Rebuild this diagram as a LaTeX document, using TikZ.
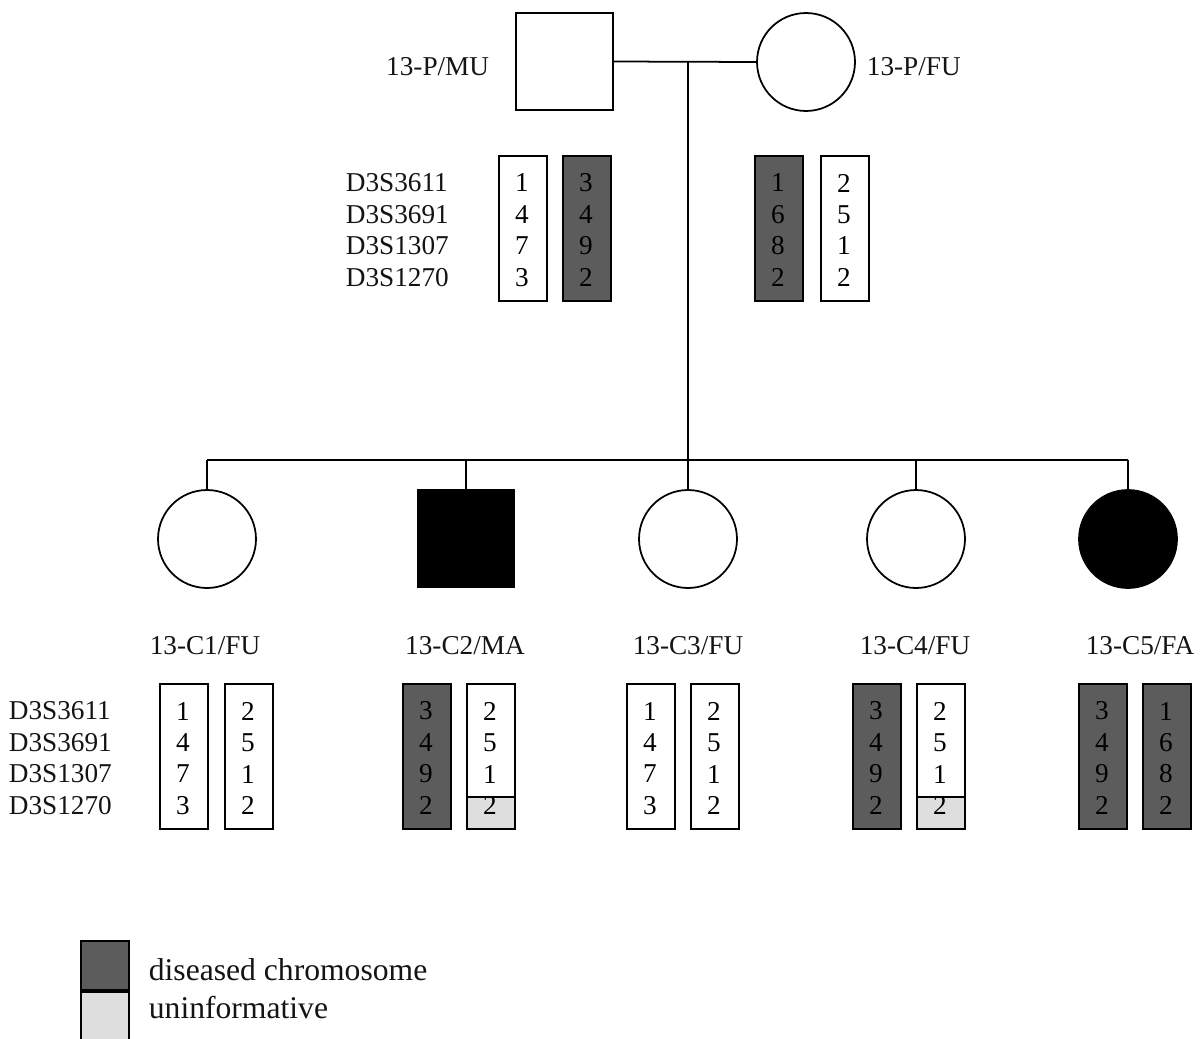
\documentclass[tikz,border=0pt]{standalone}
\usepackage{fontspec}
\setmainfont{Liberation Serif}
\usetikzlibrary{calc}
\begin{document}
\definecolor{diseased}{RGB}{92,92,92}
\definecolor{uninf}{RGB}{222,222,222}
\definecolor{ink}{RGB}{20,20,20}
\begin{tikzpicture}[x=0.02cm,y=-0.02cm,line width=1pt,
  lbl/.style={font=\fontsize{15.5}{18}\selectfont,inner sep=0pt,text=ink},
  leg/.style={font=\fontsize{18}{21}\selectfont,inner sep=0pt,anchor=west,text=ink},
  hapbox/.style={draw,rectangle,minimum width=0.96cm,minimum height=2.9cm,inner sep=0pt,anchor=north west},
  male/.style={draw,rectangle,minimum size=1.94cm,inner sep=0pt},
  female/.style={draw,circle,minimum size=1.96cm,inner sep=0pt},
  affected/.style={fill=black}
]
\useasboundingbox (0,0) rectangle (1200,1038);

% haplotype box: name, left x, top y, fill, four alleles
\newcommand\hapl[5]{%
  \node[hapbox,fill=#4] (#1) at (#2,#3) {};
  \foreach \a [count=\i] in {#5} {
    \node[lbl,text=black] at ($(#2,#3)+(24,{28+31.5*(\i-1)})$) {\a};
  }}
% marker names
\newcommand\markers[3]{%
  \foreach \m [count=\i] in {D3S3611,D3S3691,D3S1307,D3S1270} {
    \node[lbl,anchor=west] (#1\i) at (#2,{#3+28+31.5*(\i-1)}) {\m};
  }}

% parents
\node[male] (pm) at (564.5,61.5) {};
\node[female] (pf) at (806,62) {};
\node[lbl,anchor=east] (pmlab) at (490,67) {13-P/MU};
\node[lbl,anchor=west] (pflab) at (866,67) {13-P/FU};
\coordinate (mid) at (688,62);
\coordinate (sib) at (688,460);
\draw (pm.east) -- (pf.west);
\draw (mid) -- (sib);

\markers{pmk}{345}{155}
\hapl{pm1}{498}{155}{white}{1,4,7,3}
\hapl{pm2}{562}{155}{diseased}{3,4,9,2}
\hapl{pf1}{754}{155}{diseased}{1,6,8,2}
\hapl{pf2}{820}{155}{white}{2,5,1,2}

% sibship
\coordinate (s1) at (207,460);
\coordinate (s2) at (466,460);
\coordinate (s3) at (688,460);
\coordinate (s4) at (916,460);
\coordinate (s5) at (1128,460);
\draw (s1) -- (s5);

\node[female] (c1) at (207,539) {};
\node[male,affected] (c2) at (466,538.5) {};
\node[female] (c3) at (688,539) {};
\node[female] (c4) at (916,539) {};
\node[female,affected] (c5) at (1128,539) {};
\foreach \i in {1,...,5} { \draw (s\i) -- (c\i.north); }

\node[lbl] (c1lab) at (205,646) {13-C1/FU};
\node[lbl] (c2lab) at (465,646) {13-C2/MA};
\node[lbl] (c3lab) at (688,646) {13-C3/FU};
\node[lbl] (c4lab) at (915,646) {13-C4/FU};
\node[lbl] (c5lab) at (1140,646) {13-C5/FA};

\markers{cmk}{8}{683}
% partly uninformative haplotypes: light lower cell
\fill[uninf] (466,797) rectangle (514,828);
\fill[uninf] (916,797) rectangle (964,828);
\hapl{c1a}{159}{683}{white}{1,4,7,3}
\hapl{c1b}{224}{683}{white}{2,5,1,2}
\hapl{c2a}{402}{683}{diseased}{3,4,9,2}
\hapl{c2b}{466}{683}{none}{2,5,1,2}
\hapl{c3a}{626}{683}{white}{1,4,7,3}
\hapl{c3b}{690}{683}{white}{2,5,1,2}
\hapl{c4a}{852}{683}{diseased}{3,4,9,2}
\hapl{c4b}{916}{683}{none}{2,5,1,2}
\hapl{c5a}{1078}{683}{diseased}{3,4,9,2}
\hapl{c5b}{1142}{683}{diseased}{1,6,8,2}
\draw (c2b.west |- 0,797) -- (c2b.east |- 0,797);
\draw (c4b.west |- 0,797) -- (c4b.east |- 0,797);

% legend
\node[draw,fill=diseased,minimum width=0.96cm,minimum height=0.98cm,inner sep=0pt,anchor=north west] (lg1) at (80,940) {};
\node[draw,fill=uninf,minimum width=0.96cm,minimum height=0.98cm,inner sep=0pt,anchor=north] (lg2) at (lg1.south) {};
\node[leg] (lt1) at (148,970) {diseased chromosome};
\node[leg] (lt2) at (148,1008) {uninformative};
\end{tikzpicture}
\end{document}
